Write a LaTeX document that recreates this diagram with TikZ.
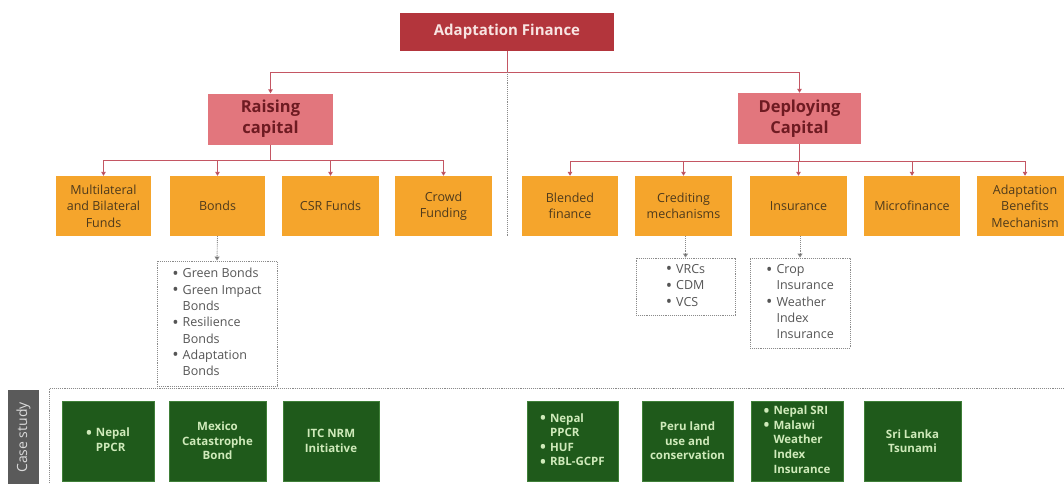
\documentclass[tikz,border=0pt]{standalone}
\usepackage{fontspec}
\setmainfont{Open Sans}
\usetikzlibrary{arrows.meta}
\definecolor{topred}{HTML}{B3353C}
\definecolor{toptext}{HTML}{F8E4E2}
\definecolor{midpink}{HTML}{E2767D}
\definecolor{midtext}{HTML}{6E1B22}
\definecolor{orangebox}{HTML}{F5A52C}
\definecolor{orangetext}{HTML}{4E3A1C}
\definecolor{linkred}{HTML}{C45663}
\definecolor{tipred}{HTML}{8E3441}
\definecolor{greenbox}{HTML}{1F5A1B}
\definecolor{greenedge}{HTML}{3F7F38}
\definecolor{greentext}{HTML}{CFEABA}
\definecolor{tabgrey}{HTML}{5A5A5A}
\definecolor{tabtext}{HTML}{DADADA}
\definecolor{dotgrey}{HTML}{8A8A8A}
\definecolor{listtext}{HTML}{555555}
\tikzset{
  basebox/.style={rectangle, inner sep=0pt, align=center},
  topbox/.style={basebox, fill=topred, text=toptext, font=\fontsize{15}{18}\selectfont\bfseries},
  midbox/.style={basebox, fill=midpink, text=midtext, font=\fontsize{16.5}{21}\selectfont\bfseries},
  orbox/.style={basebox, fill=orangebox, text=orangetext, minimum height=60, font=\fontsize{12.5}{16.5}\selectfont},
  listbox/.style={basebox, draw=dotgrey, densely dotted, line width=0.9pt, text=listtext, font=\fontsize{12.5}{16.3}\selectfont},
  greenbox/.style={basebox, fill=greenbox, draw=greenedge, line width=0.6pt, text=greentext, minimum height=80, font=\fontsize{11.5}{14.6}\selectfont\bfseries},
  conn/.style={draw=linkred, line width=0.9pt},
  tip/.style={-{Triangle[width=4.5pt,length=4pt,fill=tipred]}},
  dotconn/.style={draw=dotgrey, densely dotted, line width=0.9pt, -{Triangle[width=5pt,length=4pt,fill=listtext]}},
  dotline/.style={draw=dotgrey, densely dotted, line width=0.9pt},
}
% bulleted list with hanging indent
\newcommand{\blist}[1]{\begin{tabular}{@{}l@{\hspace{4pt}}l@{}}#1\end{tabular}}
\newcommand{\bul}{\raisebox{-0.22ex}{\scalebox{1.35}{\textbullet}}}
\begin{document}
\begin{tikzpicture}[x=1pt, y=-1pt]
\useasboundingbox[fill=white] (0,0) rectangle (1064,483);

% top level
\node[topbox, minimum width=214, minimum height=38] (af) at (507,32) {Adaptation Finance};
\node[midbox, minimum width=125, minimum height=51] (rc) at (270.5,119) {Raising\\capital};
\node[midbox, minimum width=123, minimum height=51] (dc) at (799.5,118.5) {Deploying\\Capital};

% instruments for raising capital
\node[orbox, minimum width=95] (mb) at (103.5,206) {Multilateral\\and Bilateral\\Funds};
\node[orbox, minimum width=95] (bo) at (217.5,206) {Bonds};
\node[orbox, minimum width=97] (csr) at (330.5,206) {CSR Funds};
\node[orbox, minimum width=97] (cf) at (443.5,206) {Crowd\\Funding};

% instruments for deploying capital
\node[orbox, minimum width=96] (bf) at (570,206) {Blended\\finance};
\node[orbox, minimum width=97] (cm) at (683.5,206) {Crediting\\mechanisms};
\node[orbox, minimum width=97] (in) at (798.5,206) {Insurance};
\node[orbox, minimum width=96] (mf) at (912,206) {Microfinance};
\node[orbox, minimum width=96] (abm) at (1025,206) {Adaptation\\Benefits\\Mechanism};

% connectors from the top
\draw[conn] (af.south) -- (507,72) coordinate (tj);
\draw[conn, tip] (tj) -| (rc.north);
\draw[conn, tip] (tj) -| (dc.north);
\draw[dotline] (tj) -- (507,236) coordinate (mid);

\draw[conn] (rc.south) -- (270.5,160) coordinate (lj);
\foreach \n in {mb,bo,csr,cf} \draw[conn, tip] (lj) -| (\n.north);
\draw[conn] (dc.south) -- (799.5,161) coordinate (rj);
\foreach \n in {bf,cm,in,mf,abm} \draw[conn, tip] (rj) -| (\n.north);

% sub-lists
\node[listbox, minimum width=120, minimum height=125] (bl) at (217,323.5)
  {\blist{\bul & Green Bonds\\ \bul & Green Impact\\ & Bonds\\ \bul & Resilience\\ & Bonds\\ \bul & Adaptation\\ & Bonds}};
\node[listbox, minimum width=99, minimum height=57] (cl) at (685.5,286.5)
  {\blist{\bul & VRCs\\ \bul & CDM\\ \bul & VCS}};
\node[listbox, minimum width=100, minimum height=90] (il) at (800,303)
  {\blist{\bul & Crop\\ & Insurance\\ \bul & Weather\\ & Index\\ & Insurance}};
\draw[dotconn] (bo.south) -- (bl.north);
\draw[dotconn] (cm.south -| cl.north) -- (cl.north);
\draw[dotconn] (in.south -| il.north) -- (il.north);

% case studies
\node[basebox, fill=tabgrey, minimum width=31, minimum height=95] (tab) at (23.5,437.5)
  {\rotatebox{90}{\color{tabtext}\fontsize{14}{16}\selectfont Case study}};
\node[dotline, rectangle, inner sep=0pt, anchor=north west, minimum width=1040, minimum height=120] (frame) at (49,388) {};

\node[greenbox, minimum width=92] (g1) at (108,441) {\blist{\bul & Nepal\\ & PPCR}};
\node[greenbox, minimum width=97] (g2) at (217.5,441) {Mexico\\Catastrophe\\Bond};
\node[greenbox, minimum width=96] (g3) at (331,441) {ITC NRM\\Initiative};
\node[greenbox, minimum width=91] (g4) at (572.5,441) {\blist{\bul & Nepal\\ & PPCR\\ \bul & HUF\\ \bul & RBL-GCPF}};
\node[greenbox, minimum width=91] (g5) at (687.5,441) {Peru land\\use and\\conservation};
\node[greenbox, minimum width=92] (g6) at (797,441) {\blist{\bul & Nepal SRI\\ \bul & Malawi\\ & Weather\\ & Index\\ & Insurance}};
\node[greenbox, minimum width=97] (g7) at (912.5,441) {Sri Lanka\\Tsunami};
\end{tikzpicture}
\end{document}
